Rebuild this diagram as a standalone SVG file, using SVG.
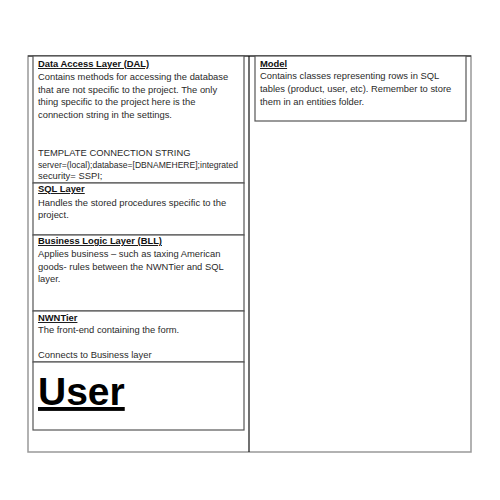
<svg xmlns="http://www.w3.org/2000/svg" width="500" height="500" viewBox="0 0 500 500">
<style>
.t{font-family:"Liberation Sans",Arial,sans-serif;font-size:9.4px;fill:#2a2a2a}
.h{font-weight:bold;text-decoration:underline;fill:#111}
.box{fill:#fff;stroke:#555;stroke-width:1.2}
.big{font-family:"Liberation Sans",Arial,sans-serif;font-size:39px;font-weight:bold;text-decoration:underline;fill:#000}
</style>
<rect width="500" height="500" fill="#fff"/>
<g id="frame">
<rect x="28" y="56" width="443" height="396" fill="none" stroke="#999" stroke-width="1.5"/>
<line x1="28" y1="56" x2="471" y2="56" stroke="#111" stroke-width="1.2"/>
<line x1="249" y1="56" x2="249" y2="452" stroke="#111" stroke-width="1.2"/>
</g>
<g id="connectors"/>
<g id="dal">
<rect class="box" x="33" y="56" width="211" height="127"/>
<text class="t h" x="38" y="67">Data Access Layer (DAL)</text>
<text class="t" x="38" y="80">Contains methods for accessing the database</text>
<text class="t" x="38" y="93">that are not specific to the project. The only</text>
<text class="t" x="38" y="105">thing specific to the project here is the</text>
<text class="t" x="38" y="118">connection string in the settings.</text>
<text class="t" x="38" y="156">TEMPLATE CONNECTION STRING</text>
<text class="t" x="38" y="168" textLength="200" lengthAdjust="spacingAndGlyphs">server=(local);database=[DBNAMEHERE];integrated</text>
<text class="t" x="38" y="179">security= SSPI;</text>
</g>
<g id="sql">
<rect class="box" x="33" y="183" width="211" height="52"/>
<text class="t h" x="38" y="192">SQL Layer</text>
<text class="t" x="38" y="206">Handles the stored procedures specific to the</text>
<text class="t" x="38" y="218">project.</text>
</g>
<g id="bll">
<rect class="box" x="33" y="235" width="211" height="76"/>
<text class="t h" x="38" y="244">Business Logic Layer (BLL)</text>
<text class="t" x="38" y="257">Applies business – such as taxing American</text>
<text class="t" x="38" y="270">goods-  rules between the NWNTier and SQL</text>
<text class="t" x="38" y="282">layer.</text>
</g>
<g id="nwntier">
<rect class="box" x="33" y="311" width="211" height="51"/>
<text class="t h" x="38" y="321">NWNTier</text>
<text class="t" x="38" y="333">The front-end containing the form.</text>
<text class="t" x="38" y="358">Connects to Business layer</text>
</g>
<g id="user">
<rect class="box" x="33" y="362" width="211" height="68"/>
<text class="big" x="38" y="405">User</text>
</g>
<g id="model">
<rect class="box" x="255" y="56" width="211" height="65"/>
<text class="t h" x="260" y="67">Model</text>
<text class="t" x="260" y="79">Contains classes representing rows in SQL</text>
<text class="t" x="260" y="92">tables (product, user, etc). Remember to store</text>
<text class="t" x="260" y="105">them in an entities folder.</text>
</g>
</svg>
